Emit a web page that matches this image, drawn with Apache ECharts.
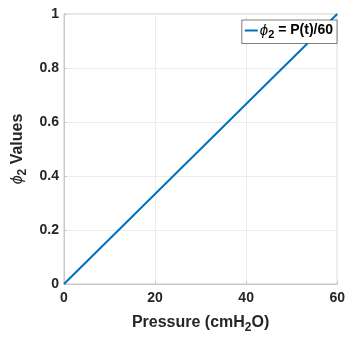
<!DOCTYPE html>
<html><head><meta charset="utf-8">
<script src="https://cdn.jsdelivr.net/npm/echarts@6/dist/echarts.min.js"></script>
<style>html,body{margin:0;padding:0;background:#fff}#c{width:348px;height:339px}</style>
</head><body><div id="c"></div>
<script>
var pressure = [0, 20, 40, 60];
var phi2 = [0, 0.3333, 0.6667, 1];
var xTicks = [0, 20, 40, 60];
var yTicks = [0, 0.2, 0.4, 0.6, 0.8, 1];
var seriesName = 'phi2';

var data = pressure.map(function (p, i) { return [p, phi2[i]]; });
var chart = echarts.init(document.getElementById('c'));
var ff = 'Liberation Sans, Arial, sans-serif';
chart.setOption({
  animation: false,
  grid: { left: 64, right: 7, top: 14, bottom: 49, show: true, borderColor: '#c8c8c8', borderWidth: 1 },
  xAxis: {
    type: 'value', min: 0, max: 60, interval: 20,
    name: 'Pressure (cmH{s|2}O)', nameLocation: 'middle', nameGap: 27,
    nameTextStyle: { fontFamily: ff, fontWeight: 'bold', fontSize: 16, color: '#262626',
      rich: { s: { fontFamily: ff, fontWeight: 'bold', fontSize: 12, color: '#262626', padding: [11, 0, 0, 0] } } },
    axisLine: { lineStyle: { color: '#c8c8c8' } },
    axisTick: { inside: true, length: 3, lineStyle: { color: '#c8c8c8' } },
    axisLabel: { fontFamily: ff, fontWeight: 'bold', fontSize: 14, color: '#262626', margin: 7,
      formatter: function (v) { return xTicks.indexOf(v) >= 0 ? String(v) : ''; } },
    splitLine: { show: true, lineStyle: { color: '#ececec' } }
  },
  yAxis: {
    type: 'value', min: 0, max: 1, interval: 0.2,
    name: '{p|ϕ}{s|2} Values', nameLocation: 'middle', nameGap: 34,
    nameTextStyle: { fontFamily: ff, fontWeight: 'bold', fontSize: 16, color: '#262626',
      rich: {
        p: { fontFamily: ff, fontStyle: 'italic', fontWeight: 'normal', fontSize: 16, color: '#262626' },
        s: { fontFamily: ff, fontWeight: 'bold', fontSize: 12, color: '#262626', padding: [11, 0, 0, 0] }
      } },
    axisLine: { show: true, lineStyle: { color: '#c8c8c8' } },
    axisTick: { show: true, inside: true, length: 3, lineStyle: { color: '#c8c8c8' } },
    axisLabel: { fontFamily: ff, fontWeight: 'bold', fontSize: 14, color: '#262626', margin: 5,
      formatter: function (v) {
        var t = yTicks.filter(function (y) { return Math.abs(y - v) < 1e-9; });
        return t.length ? String(t[0]) : '';
      } },
    splitLine: { show: true, lineStyle: { color: '#ececec' } }
  },
  legend: {
    right: 11, top: 20, orient: 'vertical',
    backgroundColor: '#fff', borderColor: '#262626', borderWidth: 0.6,
    padding: [3, 4, 3, 3], itemWidth: 13, itemHeight: 2, itemGap: 0,
    icon: 'rect',
    formatter: function () { return '{p|ϕ}{s|2}{t| = P(t)/60}'; },
    textStyle: { fontFamily: ff, fontWeight: 'bold', fontSize: 14, color: '#000', padding: [0, 0, 0, -3],
      rich: {
        p: { fontFamily: ff, fontStyle: 'italic', fontWeight: 'normal', fontSize: 15, color: '#000' },
        s: { fontFamily: ff, fontWeight: 'bold', fontSize: 11, color: '#000', padding: [9, 0, 0, 0] },
        t: { fontFamily: ff, fontWeight: 'bold', fontSize: 14, color: '#000' }
      } },
    data: [seriesName]
  },
  series: [{
    name: seriesName, type: 'line', data: data, showSymbol: false, symbol: 'none',
    lineStyle: { color: '#0072BD', width: 2 }, itemStyle: { color: '#0072BD' }
  }]
});
</script></body></html>
